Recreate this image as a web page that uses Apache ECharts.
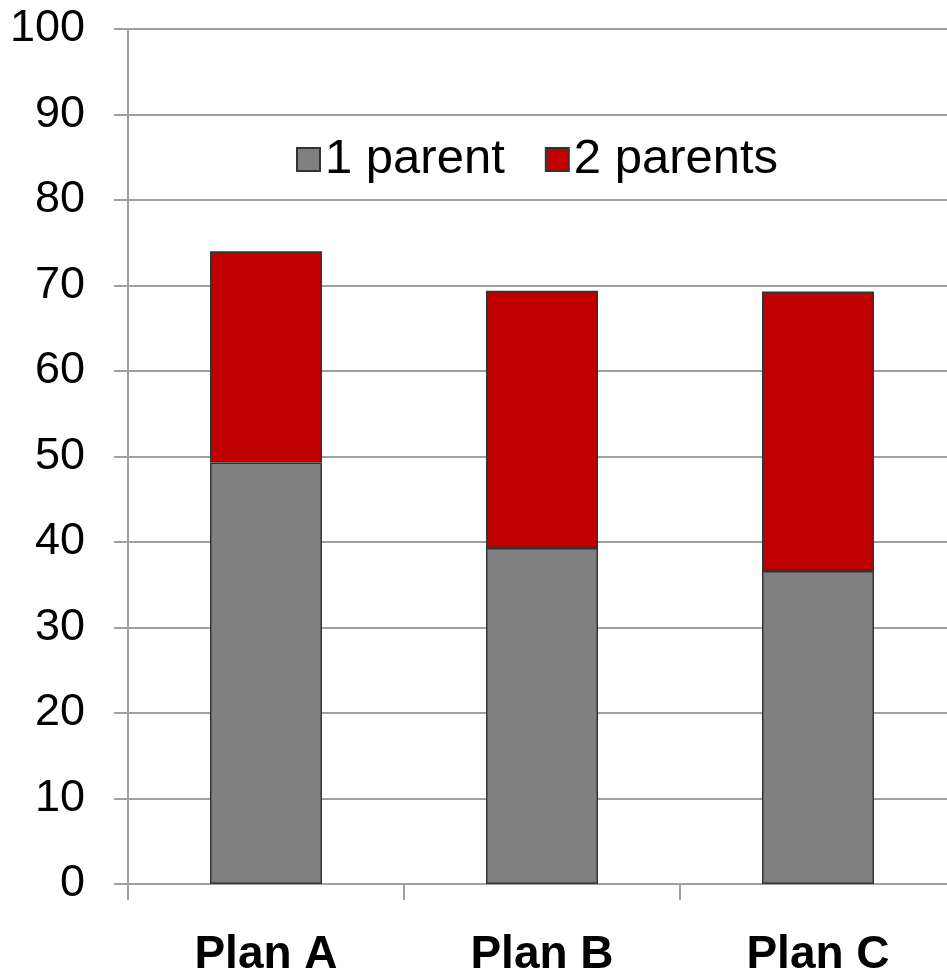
<!DOCTYPE html>
<html>
<head>
<meta charset="utf-8">
<script src="https://cdn.jsdelivr.net/npm/echarts@6/dist/echarts.min.js"></script>
<style>
  html, body { margin: 0; padding: 0; background: #fff; }
  #chart { width: 947px; height: 978px; overflow: hidden; }
</style>
</head>
<body>
<div id="chart"></div>
<script>
// categories and stacked values (percent)
const plans = ['Plan A', 'Plan B', 'Plan C']
const oneParent = [49.3, 39.3, 36.6]
const twoParents = [24.7, 30.1, 32.7]
const seriesNames = ['1 parent', '2 parents']

// canvas is a bit wider than the box: the plot area runs past the right edge, like the original
const chart = echarts.init(document.getElementById('chart'), null, { width: 956, height: 978 })

const fontFamily = '"Liberation Sans", Arial, sans-serif'
const gridGray = '#a0a0a0'

const option = {
  animation: false,
  backgroundColor: '#fff',
  grid: { left: 128, right: 0, top: 29, bottom: 89, containLabel: false },
  legend: {
    left: 291,
    top: 130,
    icon: 'rect',
    itemWidth: 23,
    itemHeight: 23,
    itemGap: 40,
    textStyle: { fontFamily, fontSize: 49, color: '#000' },
    data: seriesNames,
  },
  xAxis: {
    type: 'category',
    data: plans,
    axisLine: { lineStyle: { color: gridGray, width: 2 } },
    axisTick: { show: true, length: 16, lineStyle: { color: gridGray, width: 2 } },
    axisLabel: {
      fontFamily,
      fontSize: 46,
      fontWeight: 'bold',
      color: '#000',
      margin: 48,
    },
  },
  yAxis: {
    type: 'value',
    min: 0,
    max: 100,
    interval: 10,
    axisLine: { show: true, lineStyle: { color: gridGray, width: 2 } },
    axisTick: { show: true, length: 14, lineStyle: { color: gridGray, width: 2 } },
    splitLine: { show: true, lineStyle: { color: gridGray, width: 2 } },
    axisLabel: {
      fontFamily,
      fontSize: 45,
      color: '#000',
      margin: 43,
    },
  },
  series: [
    {
      name: seriesNames[0],
      type: 'bar',
      stack: 'total',
      barWidth: 112,
      data: oneParent,
      itemStyle: { color: '#808080', borderColor: '#333', borderWidth: 1.5 },
    },
    {
      name: seriesNames[1],
      type: 'bar',
      stack: 'total',
      barWidth: 112,
      data: twoParents,
      itemStyle: { color: '#c00000', borderColor: '#333', borderWidth: 1.5 },
    },
  ],
}

chart.setOption(option)
</script>
</body>
</html>
